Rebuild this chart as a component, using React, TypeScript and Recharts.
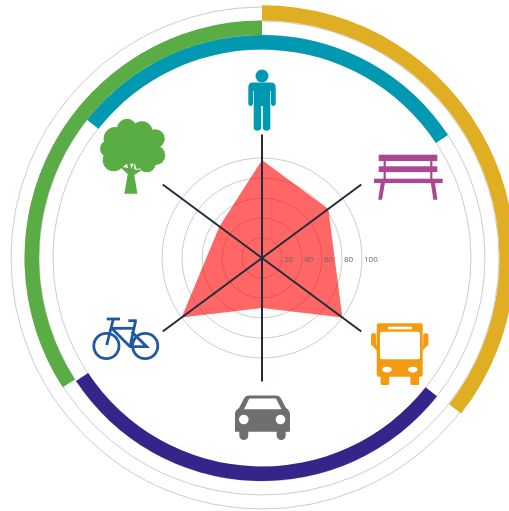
import React from "react";
import { PieChart, Pie, Cell, RadarChart, Radar, PolarGrid, PolarAngleAxis, PolarRadiusAxis } from "recharts";

const W = 509;
const H = 511;
const CX = 262;
const CY = 258;

// spokes, clockwise from the top (they are not evenly spaced in the picture)
const categories = ["person", "bench", "bus", "car", "bicycle", "tree"];
const bearings = [0, 53.5, 126.5, 180, 233.5, 306.5];
const scores = [98, 82.5, 100, 50, 100, 53];
const radiusTicks = [20, 40, 60, 80, 100];
const guideRings = [209, 223, 237, 251];

// band sweeps in degrees, the second slice of each band is the empty gap
const innerBandSweep = [108.2, 71.8, 108.2, 71.8];
const innerBandColors = ["#0099b1", "none", "#35258a", "none"];
const greenSweep = [123, 237];
const goldSweep = [128, 232];

const radarData = categories.map((name, i) => ({ name, bearing: bearings[i], score: scores[i] }));
const toSlices = (sweep: number[]) => sweep.map((value) => ({ value }));

const GREEN = "#5aac44";
const TEAL = "#0099b1";
const GOLD = "#dfae22";

function PersonIcon() {
  return (
    <g fill={TEAL}>
      <circle cx={262} cy={76} r={6.5} />
      <path d="M253 82.5 H271 Q275.7 82.5 275.7 87.5 V104 A2.4 2.4 0 0 1 271 104 V91 H270.3 V127 A3.6 3.6 0 0 1 262.8 127 V106 H261.2 V127 A3.6 3.6 0 0 1 253.7 127 V91 H253 V104 A2.4 2.4 0 0 1 248.3 104 V87.5 Q248.3 82.5 253 82.5 Z" />
    </g>
  );
}

function BenchIcon() {
  return (
    <g fill="#ab4896">
      <rect x={378.7} y={154.7} width={58.6} height={6.4} />
      <rect x={378.7} y={166.3} width={58.6} height={5.8} />
      <rect x={383.6} y={160} width={2.2} height={20} />
      <rect x={430.2} y={160} width={2.2} height={20} />
      <rect x={374} y={178.7} width={68.7} height={4.4} />
      <path d="M380.7 183 H384.9 L382 199.7 H378.2 Z" />
      <path d="M430.8 183 H435 L437.4 199.7 H433.4 Z" />
    </g>
  );
}

function BusIcon() {
  return (
    <g>
      <g fill="#f39c12">
        <rect x={376.7} y={323.3} width={46} height={53.4} rx={2} />
        <rect x={380.5} y={372} width={8.7} height={13} rx={1.5} />
        <rect x={410.4} y={372} width={8.7} height={13} rx={1.5} />
        <rect x={371} y={333.3} width={5.2} height={13} rx={2} />
        <rect x={423.2} y={333.3} width={5.2} height={13} rx={2} />
        <path d="M372 345 H377 V351 Z" />
        <path d="M427.5 345 H422.5 V351 Z" />
      </g>
      <g fill="#fff">
        <rect x={380} y={331.7} width={40} height={27.6} rx={2} />
        <rect x={388.3} y={326.7} width={23.4} height={2.6} />
        <ellipse cx={387} cy={369.6} rx={4.7} ry={2.8} />
        <ellipse cx={412.8} cy={369.6} rx={4.7} ry={2.8} />
      </g>
    </g>
  );
}

function CarIcon() {
  return (
    <g>
      <g fill="#6f6f6f">
        <path d="M249 395.5 H276 Q279.5 395.5 281 398.5 L286 408 Q290 410.5 290 414 V431.7 H235 V414 Q235 410.5 239 408 L244 398.5 Q245.5 395.5 249 395.5 Z" />
        <path d="M239.3 431 H248.3 V435.5 A4.5 4.5 0 0 1 239.3 435.5 Z" />
        <path d="M276.7 431 H285.7 V435.5 A4.5 4.5 0 0 1 276.7 435.5 Z" />
      </g>
      <g fill="#fff">
        <path d="M249.3 398.5 H276 L281.5 409.3 H244 Z" />
        <circle cx={243.8} cy={419.5} r={4.8} />
        <circle cx={280.5} cy={419.5} r={4.8} />
      </g>
    </g>
  );
}

function BicycleIcon() {
  return (
    <g fill="none" stroke="#2057a7" strokeWidth={2.8}>
      <circle cx={106.4} cy={346} r={12.6} />
      <circle cx={145.2} cy={346} r={12.6} />
      <path d="M106.7 319 H120" />
      <path d="M113.3 319 L106.7 345" />
      <path d="M128.3 320.7 H136.7" />
      <path d="M111.7 328.3 H133.3" />
      <path d="M111.7 328.3 L130 346.7 H146.7 L131.7 331.7" />
      <path d="M135.6 320.7 L130 346.7" />
    </g>
  );
}

function TreeIcon() {
  return (
    <g>
      <g fill={GREEN}>
        <circle cx={127} cy={128.7} r={10} />
        <circle cx={142} cy={132} r={10.7} />
        <circle cx={155.3} cy={138.7} r={9.5} />
        <circle cx={155.3} cy={155.3} r={10} />
        <circle cx={147} cy={163.7} r={8.6} />
        <circle cx={115.3} cy={138.7} r={11.7} />
        <circle cx={108.7} cy={148.7} r={8.7} />
        <circle cx={113.7} cy={160.3} r={11} />
        <circle cx={131.7} cy={146.7} r={23} />
        <path d="M120 167 L127.7 174 L124.3 193.7 H137.4 L134.3 175 L142 170 Z" />
      </g>
      <g fill="#fff">
        <path d="M122.7 167 L127 163.7 L128 168 Z" />
        <path d="M130.3 163.7 L133.7 163.7 L131.3 168.7 Z" />
        <path d="M134.7 162.7 L137 170.3 L134 168.7 Z" />
      </g>
    </g>
  );
}

const icons = [PersonIcon, BenchIcon, BusIcon, CarIcon, BicycleIcon, TreeIcon];

function IconTick({ index }: { index?: number }) {
  const Icon = icons[index ?? 0];
  return Icon ? <Icon /> : null;
}

// upright labels: the axis would otherwise turn its text with the angle
function RadiusTick({ x, y, payload }: { x?: number; y?: number; payload?: { value: number } }) {
  return (
    <text x={(x ?? 0) + 2} y={(y ?? 0) + 3.5} textAnchor="start" fontSize={8} fill="#666666" fontFamily="Open Sans">
      {payload?.value}
    </text>
  );
}

export default function App() {
  const layer: React.CSSProperties = { position: "absolute", left: 0, top: 0 };
  return (
    <div style={{ ...layer, width: W, height: H, background: "#fff", overflow: "hidden", filter: "blur(0.4px)" }}>
      <div style={layer}>
        <RadarChart width={W} height={H} data={radarData} cx={CX} cy={CY} outerRadius={123} startAngle={90} endAngle={-270}>
          <PolarGrid gridType="circle" radialLines={false} polarRadius={guideRings} stroke="#cccccc" />
        </RadarChart>
      </div>
      <div style={layer}>
        <PieChart width={W} height={H} margin={{ top: 0, right: 0, bottom: 0, left: 0 }}>
          <Pie data={toSlices(innerBandSweep)} dataKey="value" cx={CX} cy={CY} innerRadius={208.5} outerRadius={223} startAngle={141.7} endAngle={-218.3} stroke="none" isAnimationActive={false}>
            {innerBandColors.map((c, i) => <Cell key={i} fill={c} />)}
          </Pie>
          <Pie data={toSlices(greenSweep)} dataKey="value" cx={CX} cy={CY} innerRadius={223} outerRadius={237.5} startAngle={90} endAngle={450} stroke="none" isAnimationActive={false}>
            <Cell fill={GREEN} />
            <Cell fill="none" />
          </Pie>
          <Pie data={toSlices(goldSweep)} dataKey="value" cx={CX} cy={CY} innerRadius={237.5} outerRadius={252.7} startAngle={90} endAngle={-270} stroke="none" isAnimationActive={false}>
            <Cell fill={GOLD} />
            <Cell fill="none" />
          </Pie>
        </PieChart>
      </div>
      <div style={layer}>
        <RadarChart width={W} height={H} data={radarData} cx={CX} cy={CY} outerRadius={123} startAngle={90} endAngle={-270}>
          <PolarGrid gridType="circle" radialLines={false} polarRadius={radiusTicks} stroke="#cccccc" />
          <PolarAngleAxis dataKey="bearing" type="number" domain={[0, 360]} ticks={bearings as any} tick={IconTick as any} tickLine={false} axisLine={false} />
          <PolarRadiusAxis angle={0} domain={[0, 123]} ticks={radiusTicks as any} axisLine={false} tickLine={false} tick={RadiusTick as any} />
          <Radar dataKey="score" fill="#ff0000" fillOpacity={0.6} stroke="none" isAnimationActive={false} />
        </RadarChart>
      </div>
      <div style={layer}>
        <RadarChart width={W} height={H} data={radarData} cx={CX} cy={CY} outerRadius={123.5} startAngle={90} endAngle={-270}>
          <PolarGrid gridType="circle" polarRadius={[]} polarAngles={bearings.map((b) => 90 - b)} stroke="#1f2d3d" strokeWidth={2} />
        </RadarChart>
      </div>
    </div>
  );
}
